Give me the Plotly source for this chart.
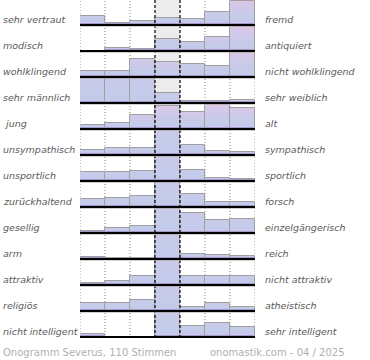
import plotly.graph_objects as go

# ---- data (relative share per answer column, 7 columns, row max = 100) ----
left_labels = ["sehr vertraut", "modisch", "wohlklingend", "sehr männlich", " jung",
               "unsympathisch", "unsportlich", "zurückhaltend", "gesellig", "arm",
               "attraktiv", "religiös", "nicht intelligent"]
right_labels = ["fremd", "antiquiert", "nicht wohlklingend", "sehr weiblich", "alt",
                "sympathisch", "sportlich", "forsch", "einzelgängerisch", "reich",
                "nicht attraktiv", "atheistisch", "sehr intelligent"]

r_vertraut = [37, 9, 15, 27, 26, 52, 100]
r_modisch = [0, 13, 7, 48, 36, 56, 100]
r_wohlklingend = [25, 25, 74, 61, 54, 45, 100]
r_maennlich = [100, 100, 100, 42, 7, 7, 12]
r_jung = [16, 23, 57, 94, 68, 100, 84]
r_unsympathisch = [22, 27, 29, 100, 40, 16, 11]
r_unsportlich = [36, 36, 40, 100, 44, 13, 7]
r_zurueckhaltend = [31, 38, 45, 100, 52, 22, 22]
r_gesellig = [8, 22, 27, 100, 80, 53, 59]
r_arm = [9, 6, 6, 100, 22, 18, 11]
r_attraktiv = [7, 16, 37, 100, 36, 36, 36]
r_religioes = [31, 31, 45, 100, 15, 31, 15]
r_intelligent = [12, 0, 0, 100, 44, 57, 41]

rows = [r_vertraut, r_modisch, r_wohlklingend, r_maennlich, r_jung, r_unsympathisch,
        r_unsportlich, r_zurueckhaltend, r_gesellig, r_arm, r_attraktiv, r_religioes,
        r_intelligent]

footer_left = "Onogramm Severus, 110 Stimmen"
footer_right = "onomastik.com - 04 / 2025"

# ---- styling ----
n_rows = len(rows)
MAXH = 0.94          # full bar height in row units
STRIP = 0.09         # darker base strip
NSEG = 8
warm_rows = {0, 1, 2, 4}
blue = (196, 203, 234)
pink = (223, 199, 231)
lav = (203, 202, 234)
strip_col = "rgb(163,150,200)"


def mix(a, b, t):
    return "rgb(%d,%d,%d)" % tuple(round(a[k] + (b[k] - a[k]) * t) for k in range(3))


fig = go.Figure()

shapes = [dict(type="rect", xref="x", yref="paper", x0=2.5, x1=3.5, y0=0, y1=1,
               fillcolor="#ececec", line_width=0, layer="below")]
for xb in [-0.5, 0.5, 1.5, 4.5, 5.5, 6.5]:
    shapes.append(dict(type="line", xref="x", yref="paper", x0=xb, x1=xb, y0=0, y1=1,
                       line=dict(color="#808080", width=1, dash="1px,2px"), layer="below"))

strip_x, strip_y, strip_b = [], [], []
seg = [dict(x=[], y=[], base=[], c=[]) for _ in range(NSEG)]
out_x, out_y, out_b = [], [], []
for i, row in enumerate(rows):
    base = n_rows - 1 - i
    m = max(row)
    for j, v in enumerate(row):
        if v <= 0:
            continue
        h = v / m * MAXH
        out_x.append(j); out_y.append(h); out_b.append(base)
        s = min(STRIP, h)
        strip_x.append(j); strip_y.append(s); strip_b.append(base)
        body = h - s
        if body <= 0:
            continue
        rel = v / m
        top = pink if (i in warm_rows and rel > 0.55) else lav
        for k in range(NSEG):
            t = (k + 0.5) / NSEG
            seg[k]["x"].append(j)
            seg[k]["y"].append(body / NSEG)
            seg[k]["base"].append(base + s + body * k / NSEG)
            seg[k]["c"].append(mix(blue, top, t * t * rel))

for k in range(NSEG):
    fig.add_trace(go.Bar(x=seg[k]["x"], y=seg[k]["y"], base=seg[k]["base"], width=1,
                         marker=dict(color=seg[k]["c"], line_width=0), hoverinfo="skip"))
fig.add_trace(go.Bar(x=strip_x, y=strip_y, base=strip_b, width=1,
                     marker=dict(color=strip_col, line_width=0), hoverinfo="skip"))
fig.add_trace(go.Bar(x=out_x, y=out_y, base=out_b, width=1,
                     marker=dict(color="rgba(0,0,0,0)", line=dict(color="#a0a0a0", width=1)),
                     hoverinfo="skip"))

for xb in [2.5, 3.5]:
    shapes.append(dict(type="line", xref="x", yref="paper", x0=xb, x1=xb, y0=0, y1=1,
                       line=dict(color="#000000", width=1.2, dash="3px,2px"), layer="above"))

for i in range(n_rows):
    base = n_rows - 1 - i
    shapes.append(dict(type="line", xref="x", yref="y", x0=-0.5, x1=6.5, y0=base - 0.045,
                       y1=base - 0.045, line=dict(color="#b8b8b8", width=1), layer="above"))
    shapes.append(dict(type="line", xref="x", yref="y", x0=-0.5, x1=6.5, y0=base, y1=base,
                       line=dict(color="#000000", width=2), layer="above"))

annotations = []
lab_font = dict(family="DejaVu Sans", size=9.5, color="#5a5a5a", style="italic")
for i in range(n_rows):
    base = n_rows - 1 - i
    annotations.append(dict(text=left_labels[i], xref="paper", yref="y",
                            x=(1 - 80) / 175, y=base + 0.2, xanchor="left", yanchor="middle",
                            showarrow=False, font=lab_font))
    annotations.append(dict(text=right_labels[i], xref="paper", yref="y",
                            x=(263 - 80) / 175, y=base + 0.2, xanchor="left",
                            yanchor="middle", showarrow=False, font=lab_font))
foot_font = dict(family="DejaVu Sans", size=10, color="#b0b0b0")
annotations.append(dict(text=footer_left, xref="paper", yref="paper", x=(1 - 80) / 175,
                        y=(338 - 352) / 338, xanchor="left", yanchor="middle",
                        showarrow=False, font=foot_font))
annotations.append(dict(text=footer_right, xref="paper", yref="paper", x=(347 - 80) / 175,
                        y=(338 - 352) / 338, xanchor="right", yanchor="middle",
                        showarrow=False, font=foot_font))

fig.update_layout(
    width=370, height=360, margin=dict(l=80, r=115, t=0, b=22),
    paper_bgcolor="white", plot_bgcolor="white", showlegend=False,
    barmode="overlay", bargap=0, shapes=shapes, annotations=annotations,
    xaxis=dict(range=[-0.5, 6.5], visible=False, fixedrange=True),
    yaxis=dict(range=[-1 / 26, n_rows - 1 + 25 / 26], visible=False, fixedrange=True),
)

fig.write_html("out.html", config={"displayModeBar": False},
               post_script="document.body.style.margin='0';document.body.style.overflow='hidden';")
